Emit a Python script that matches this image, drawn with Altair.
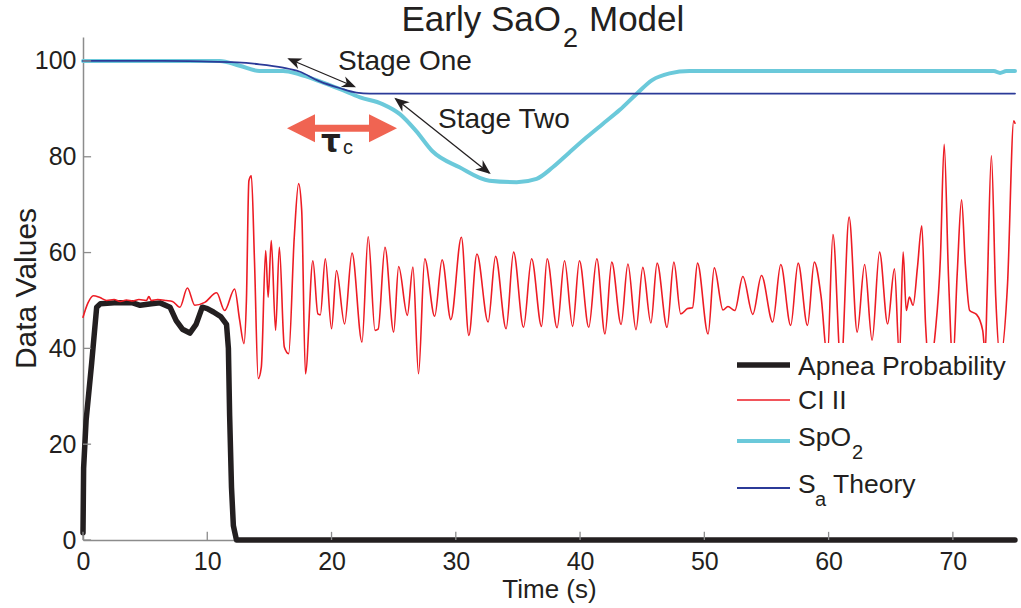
import altair as alt
import pandas as pd

# ---------------- data ----------------
apnea_t = [0, 0.05, 0.25, 0.7, 1.1, 1.4, 2.5, 4.0, 4.6, 5.5, 6.2, 7.0, 7.5, 8.0, 8.6,
           9.1, 9.6, 10.0, 10.5, 11.1, 11.55, 11.7, 11.8, 11.95, 12.1, 12.35, 75]
apnea_v = [1.5, 15, 25, 37, 48.6, 49.3, 49.5, 49.5, 49.0, 49.3, 49.5, 48.6, 45.8, 44.0, 43.2,
           45.0, 48.6, 48.3, 47.6, 46.6, 45.0, 40.0, 26.0, 11.0, 3.0, 0, 0]

ci_t = [0.0, 0.4, 0.83, 1.37, 1.9, 2.5, 3.0, 3.5, 4.0, 4.5, 5.1, 5.3, 5.5, 6.0, 6.7, 7.2,
        7.8, 8.4, 9.0, 9.8, 10.75, 11.4, 12.2, 12.6, 12.95, 13.15, 13.35, 13.55, 13.8, 14.1,
        14.35, 14.7, 14.9, 15.15, 15.5, 15.8, 16.2, 16.55, 17.0, 17.35, 17.6, 17.9, 18.5,
        18.9, 19.1, 19.5, 20.0, 20.4, 21.05, 21.65, 22.45, 22.95, 23.5, 23.75, 24.3, 25.0,
        25.4, 26.1, 26.55, 27.0, 27.5, 28.3, 28.9, 29.6, 30.45, 31.05, 31.7, 32.6, 33.2,
        34.05, 34.65, 35.45, 36.1, 36.9, 37.35, 38.15, 38.75, 39.4, 39.95, 40.7, 41.35,
        42.0, 42.55, 43.3, 43.85, 44.5, 45.05, 45.7, 46.2, 47.0, 47.55, 48.1, 48.65, 49.05,
        49.45, 50.3, 50.8, 51.5, 51.9, 52.45, 53.1, 53.9, 54.6, 55.5, 56.15, 56.95, 57.55,
        58.3, 58.85, 59.4, 59.9, 60.35, 61.0, 61.65, 62.3, 62.9, 63.5, 64.1, 64.75, 65.3,
        65.7, 66.0, 66.25, 66.5, 66.8, 67.15, 67.5, 67.8, 68.1, 68.6, 69.0, 69.3, 69.65,
        70.0, 70.35, 70.7, 71.0, 71.35, 71.9, 72.4, 72.6, 72.75, 73.1, 73.45, 73.8, 74.4,
        74.9, 75.0]
ci_v = [46.5, 49.5, 51.0, 50.6, 50.0, 50.2, 49.8, 50.1, 49.9, 50.2, 50.0, 50.8, 50.0, 50.2,
        50.0, 49.8, 48.6, 52.6, 49.0, 49.6, 51.6, 47.9, 52.4, 46.0, 41.0, 50.0, 75.0, 76.0,
        58.3, 33.7, 36.1, 60.4, 50.7, 62.5, 43.75, 61.1, 40.3, 38.9, 63.2, 74.4, 68.75, 34.7,
        58.3, 47.2, 47.0, 58.7, 44.1, 56.25, 45.1, 59.9, 41.3, 63.3, 43.75, 44.0, 61.1, 43.4,
        57.1, 46.9, 57.0, 34.7, 58.7, 46.7, 58.5, 46.0, 63.2, 42.7, 59.7, 45.5, 59.2, 44.1,
        60.1, 44.4, 58.7, 44.6, 58.7, 44.3, 58.3, 44.6, 58.3, 44.4, 58.7, 43.0, 58.0, 45.0,
        57.6, 43.9, 56.9, 45.3, 57.8, 44.4, 58.0, 47.2, 48.3, 48.5, 57.8, 43.0, 56.8, 48.0,
        48.75, 47.9, 55.0, 47.1, 55.2, 45.5, 57.5, 44.8, 57.8, 44.8, 58.0, 50.7, 38.0, 63.75,
        36.0, 67.4, 43.4, 57.5, 41.7, 60.1, 45.1, 56.6, 38.0, 60.1, 47.9, 50.7, 49.0, 56.9,
        65.6, 45.1, 36.0, 43.75, 59.0, 82.6, 54.9, 37.0, 55.6, 71.0, 57.6, 47.9, 47.1, 43.75,
        39.0, 50.7, 80.2, 50.7, 38.0, 53.5, 87.5, 87.0]

spo2_t = [0, 11, 12.6, 14.2, 16.1, 17.4, 19, 20.7, 22.3, 24.1, 25.5, 26.8, 28.1, 30.3, 32.7,
          34.9, 36.5, 37.8, 39.1, 40.5, 41.8, 43.2, 44.5, 45.8, 47.2, 48.8, 73.3, 73.8, 74.3, 75]
spo2_v = [100, 100, 99.0, 97.9, 97.9, 97.2, 95.8, 94.1, 92.4, 91.0, 88.9, 85.4, 81.2, 77.8, 75.0,
          74.7, 75.4, 77.8, 80.8, 84.0, 86.8, 89.8, 93.0, 96.0, 97.4, 97.9, 97.9, 97.5, 97.9, 97.9]

sa_t = [0, 6.4, 9.5, 12.4, 14.2, 16.1, 17.4, 19, 20.7, 22, 23.1, 75]
sa_v = [100, 100, 99.9, 99.7, 99.3, 98.6, 97.8, 95.8, 94.3, 93.4, 93.2, 93.2]

x_ticks = [0, 10, 20, 30, 40, 50, 60, 70]
y_ticks = [0, 20, 40, 60, 80, 100]

# ---------------- styling ----------------
FONT = "Liberation Sans"
INK = "#231F20"
RED = "#ED1C24"
CYAN = "#6BC9DA"
BLUE = "#2B3A98"
SALMON = "#F06452"
GREY = "#8C8C8C"
L, T = 83, 37          # plot origin on the page
W, H = 932, 503

XS = alt.Scale(domain=[0, 75], nice=False, zero=False)
YS = alt.Scale(domain=[0, 105], nice=False, zero=False)

x_axis = alt.Axis(values=x_ticks, grid=False, ticks=False, tickSize=0, labelPadding=9,
                  labelFontSize=25, labelFont=FONT, labelColor=INK, labelFlush=False,
                  domainColor=GREY, domainWidth=1.5, title="Time (s)", titleFont=FONT,
                  titleFontSize=26, titleFontWeight="normal", titleColor=INK,
                  titleBaseline="alphabetic", titleY=57)
y_axis = alt.Axis(values=y_ticks, grid=False, ticks=False, tickSize=0, labelPadding=7,
                  labelFontSize=25, labelFont=FONT, labelColor=INK,
                  domainColor=GREY, domainWidth=1.5, title="Data Values", titleFont=FONT,
                  titleFontSize=30, titleFontWeight="normal", titleColor=INK,
                  titleBaseline="alphabetic", titleAlign="center", titleX=-48,
                  titleY=(288 - T))


def series(ts, vs, color, width, interp="monotone"):
    df = pd.DataFrame({"t": ts, "v": vs})
    return alt.Chart(df).mark_line(color=color, strokeWidth=width, interpolate=interp,
                                   strokeCap="round", strokeJoin="round").encode(
        x=alt.X("t:Q", scale=XS, axis=x_axis),
        y=alt.Y("v:Q", scale=YS, axis=y_axis),
    )


one = pd.DataFrame({"k": [0]})


def txt(s, x, y, size, align="left", weight="normal", color=INK, font=FONT):
    return alt.Chart(one).mark_text(text=s, fontSize=size, font=font, align=align,
                                    baseline="alphabetic", fontWeight=weight,
                                    color=color).encode(x=alt.value(x - L), y=alt.value(y - T))


def seg(x1, y1, x2, y2, color, width):
    return alt.Chart(one).mark_rule(color=color, strokeWidth=width).encode(
        x=alt.value(x1 - L), y=alt.value(y1 - T), x2=alt.value(x2 - L), y2=alt.value(y2 - T))


HEAD = "M0,0 L-2,-0.8 L-1.4,0 L-2,0.8 Z"
TRI = "M0,0 L-2,-1 L-2,1 Z"


def head(x, y, angle, size, color, shape=HEAD):
    return alt.Chart(one).mark_point(shape=shape, size=size, angle=angle % 360, filled=True,
                                     opacity=1, color=color, strokeWidth=0).encode(
        x=alt.value(x - L), y=alt.value(y - T))


# ---------------- layers ----------------
lines = [
    series(apnea_t, apnea_v, INK, 5.5, "linear"),
    series(ci_t, ci_v, RED, 1.6),
    series(spo2_t, spo2_v, CYAN, 4),
    series(sa_t, sa_v, BLUE, 1.8),
]

ytick_df = pd.DataFrame({"v": y_ticks, "x0": [0] * len(y_ticks), "x1": [0.65] * len(y_ticks)})
xtick_df = pd.DataFrame({"t": x_ticks, "y0": [0] * len(x_ticks), "y1": [1.7] * len(x_ticks)})
yticks = alt.Chart(ytick_df).mark_rule(color=GREY, strokeWidth=1.3).encode(
    x=alt.X("x0:Q", scale=XS, axis=x_axis), x2="x1:Q", y=alt.Y("v:Q", scale=YS, axis=y_axis))
xticks = alt.Chart(xtick_df).mark_rule(color=GREY, strokeWidth=1.3).encode(
    x=alt.X("t:Q", scale=XS, axis=x_axis), y=alt.Y("y0:Q", scale=YS, axis=y_axis), y2="y1:Q")

legend_bg = alt.Chart(one).mark_rect(color="white").encode(
    x=alt.value(700 - L), x2=alt.value(1015 - L), y=alt.value(343 - T), y2=alt.value(522 - T))

legend = [
    legend_bg,
    seg(737, 365, 790, 365, INK, 5.5), txt("Apnea Probability", 798, 375, 26.5),
    seg(737, 400, 790, 400, RED, 1.6), txt("CI II", 798, 409, 26.5),
    seg(737, 441, 790, 441, CYAN, 4), txt("SpO", 798, 446, 26.5), txt("2", 852, 459, 20),
    seg(737, 488, 790, 488, BLUE, 1.8), txt("S", 798, 493, 26.5), txt("a", 815, 506, 20),
    txt("Theory", 833, 493, 26.5),
]

annotations = [
    # title
    txt("Early SaO", 561, 31, 35, align="right"), txt("2", 563, 47, 27), txt("Model", 589, 31, 35),
    # stage one
    txt("Stage One", 338, 70, 28),
    seg(289, 59, 354, 86.5, INK, 1.3),
    head(356, 87.3, 22.9, 200, INK), head(287.3, 58.3, 202.9, 200, INK),
    # stage two
    txt("Stage Two", 438, 128, 28),
    seg(396, 99, 489, 173, INK, 1.3),
    head(490.7, 174, 38.4, 225, INK), head(394.3, 97.7, 218.4, 225, INK),
    # tau_c arrow
    seg(312, 128.3, 372, 128.3, SALMON, 7),
    head(397, 128.3, 0, 784, SALMON, TRI), head(287, 128.3, 180, 784, SALMON, TRI),
    txt("τ", 321, 152, 31, weight="bold", font="DejaVu Sans"), txt("c", 343, 154, 20),
]

chart = alt.layer(*lines, yticks, xticks, *legend, *annotations).properties(
    width=W, height=H,
    autosize=alt.AutoSizeParams(type="none"),
    padding={"left": L, "top": T, "right": 1021 - L - W, "bottom": 608 - T - H},
    background="white",
).configure_view(stroke=None)

chart.save("out.html", embed_options={"renderer": "svg", "actions": False})
